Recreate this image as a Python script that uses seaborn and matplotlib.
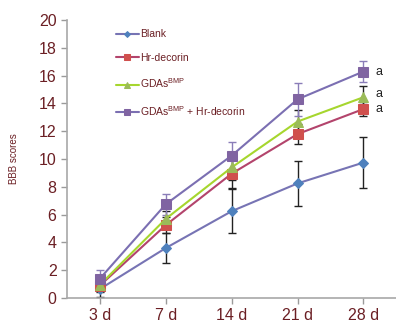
import matplotlib
matplotlib.use("Agg")
import matplotlib.pyplot as plt
import seaborn as sns
import pandas as pd
import numpy as np

days = ["3 d", "7 d", "14 d", "21 d", "28 d"]
groups = ["Blank", "Hr-decorin", r"GDAs$^{\mathregular{BMP}}$", r"GDAs$^{\mathregular{BMP}}$ + Hr-decorin"]
blank = [0.65, 3.6, 6.25, 8.25, 9.75]
blank_err = [0.55, 1.05, 1.6, 1.6, 1.85]
hr = [0.9, 5.25, 8.95, 11.8, 13.6]
hr_err = [0.45, 0.6, 1.0, 0.75, 0.5]
gdas = [0.95, 5.7, 9.4, 12.7, 14.45]
gdas_err = [0.45, 0.55, 0.9, 0.8, 0.8]
combo = [1.4, 6.75, 10.25, 14.3, 16.3]
combo_err = [0.6, 0.75, 1.0, 1.2, 0.75]
sig_labels = ["", "a", "a", "a"]

values = [blank, hr, gdas, combo]
errors = [blank_err, hr_err, gdas_err, combo_err]
line_colors = ["#7774B4", "#B3446C", "#A6D62E", "#7B6FB2"]
face_colors = ["#4F81BD", "#D0504D", "#9BBB59", "#8064A2"]
err_colors = ["#222222", "#222222", "#222222", "#8A7DB8"]
markers = ["D", "s", "^", "s"]
msizes = [5, 7, 7, 7.5]

sns.set_style("white")
plt.rcParams["font.family"] = ["Liberation Sans", "DejaVu Sans"]
plt.rcParams["mathtext.fontset"] = "custom"
plt.rcParams["mathtext.rm"] = "Liberation Sans"

text_color = "#6B1F24"

fig = plt.figure(figsize=(3.96, 3.24), dpi=100)
ax = fig.add_axes([0.169, 0.08, 0.832, 0.858])

for i, g in enumerate(groups):
    df = pd.DataFrame({"day": days, "score": values[i]})
    ax.errorbar(np.arange(len(days)), values[i], yerr=errors[i], fmt="none",
                ecolor=err_colors[i], elinewidth=1.0, capsize=3, capthick=1.0, zorder=2)
    sns.lineplot(data=df, x="day", y="score", ax=ax, color=line_colors[i],
                 marker=markers[i], markersize=msizes[i], markerfacecolor=face_colors[i],
                 markeredgecolor=face_colors[i], linewidth=1.5, label=g, sort=False, zorder=3)

for i in range(1, 4):
    if sig_labels[i]:
        ax.text(4.18, values[i][-1] + (0.25 if i == 2 else 0), sig_labels[i], fontsize=9,
                color="#222222", va="center", ha="left")

ax.set_xlim(-0.5, 4.5)
ax.set_ylim(0, 20)
ax.set_yticks(range(0, 21, 2))
ax.set_xlabel("")
ax.set_ylabel("BBB scores", fontsize=7, color=text_color, labelpad=14)
ax.tick_params(axis="both", labelsize=11.5, labelcolor=text_color, colors="#9A9A9A",
               length=4, width=1, direction="out", left=True, bottom=True)
ax.tick_params(axis="x", pad=3)
ax.tick_params(axis="both", labelcolor=text_color)
for s in ["top", "right"]:
    ax.spines[s].set_visible(False)
for s in ["left", "bottom"]:
    ax.spines[s].set_color("#A8A8A8")
    ax.spines[s].set_linewidth(1.2)

leg = ax.legend(loc="upper left", bbox_to_anchor=(0.12, 1.0), frameon=False, fontsize=7.5,
                labelspacing=1.3, handlelength=2.2, handletextpad=0.1, borderaxespad=0.5,
                markerscale=0.6)
for t in leg.get_texts():
    t.set_color(text_color)

fig.savefig("out.png", dpi=100)
